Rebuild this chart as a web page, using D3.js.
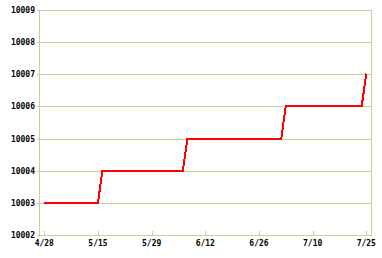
<!DOCTYPE html>
<html>
<head>
<meta charset="utf-8">
<script src="https://cdn.jsdelivr.net/npm/d3@7"></script>
<style>
body{margin:0;background:#fff;}
text{font-family:"DejaVu Sans Mono",monospace;font-size:8px;font-weight:bold;fill:#000;}
</style>
</head>
<body>
<svg id="chart" width="382" height="258"></svg>
<script>
// daily values, 73 points (4/28 .. 7/25)
var values=[10003,10003,10003,10003,10003,10003,10003,10003,10003,10003,10003,10003,10003,
10004,10004,10004,10004,10004,10004,10004,10004,10004,10004,10004,10004,10004,10004,10004,10004,10004,10004,10004,
10005,10005,10005,10005,10005,10005,10005,10005,10005,10005,10005,10005,10005,10005,10005,10005,10005,10005,10005,10005,10005,10005,
10006,10006,10006,10006,10006,10006,10006,10006,10006,10006,10006,10006,10006,10006,10006,10006,10006,10006,
10007];
var tickLabels=["4/28","5/15","5/29","6/12","6/26","7/10","7/25"];
var tickIndex=[0,12,24,36,48,60,72];
var yTicks=[10002,10003,10004,10005,10006,10007,10008,10009];

var svg=d3.select("#chart");
var pLeft=39,pRight=371,pTop=10,pBottom=235;
var grid="#cccc99";

var x=d3.scaleLinear().domain([0,values.length-1]).range([44.3,366.3]);
var y=d3.scaleLinear().domain([10002,10009]).range([pBottom,pTop]);

// horizontal grid
svg.append("g").selectAll("line").data(yTicks).enter().append("line")
  .attr("x1",pLeft-2).attr("x2",pRight+1)
  .attr("y1",function(d){return Math.round(y(d))+0.5;}).attr("y2",function(d){return Math.round(y(d))+0.5;})
  .attr("stroke",grid).attr("stroke-width",1);

// frame sides
svg.append("line").attr("x1",pLeft+0.5).attr("x2",pLeft+0.5).attr("y1",pTop).attr("y2",pBottom+1).attr("stroke",grid);
svg.append("line").attr("x1",pRight+0.5).attr("x2",pRight+0.5).attr("y1",pTop).attr("y2",pBottom+1).attr("stroke",grid);

// x ticks
svg.append("g").selectAll("line").data(tickIndex).enter().append("line")
  .attr("x1",function(d){return Math.round(x(d))+0.5;}).attr("x2",function(d){return Math.round(x(d))+0.5;})
  .attr("y1",pBottom-4).attr("y2",pBottom)
  .attr("stroke",grid);

// y labels
svg.append("g").selectAll("text").data(yTicks).enter().append("text")
  .attr("x",35).attr("y",function(d){return y(d)+3;})
  .attr("text-anchor","end")
  .text(function(d){return d;});

// x labels
svg.append("g").selectAll("text").data(tickIndex).enter().append("text")
  .attr("x",function(d){return x(d);}).attr("y",246)
  .attr("text-anchor","middle")
  .text(function(d,i){return tickLabels[i];});

var line=d3.line()
  .x(function(d,i){return x(i);})
  .y(function(d){return Math.round(y(d))-0.5;});

svg.append("path").datum(values)
  .attr("d",line)
  .attr("fill","none")
  .attr("stroke","#ff0000")
  .attr("stroke-width",2)
  .attr("shape-rendering","crispEdges");
</script>
</body>
</html>
